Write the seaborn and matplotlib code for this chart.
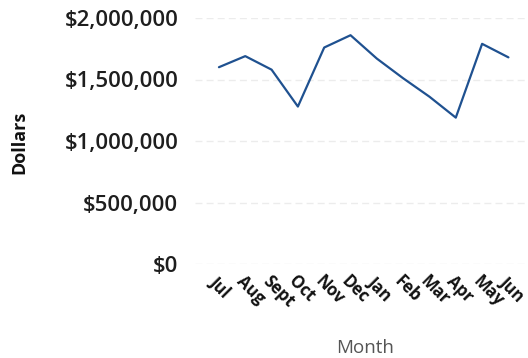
import matplotlib
matplotlib.use("Agg")
import matplotlib.pyplot as plt
import seaborn as sns
import pandas as pd

months = ["Jul", "Aug", "Sept", "Oct", "Nov", "Dec", "Jan", "Feb", "Mar", "Apr", "May", "Jun"]
dollars = [1600000, 1690000, 1580000, 1280000, 1760000, 1860000,
           1670000, 1510000, 1360000, 1190000, 1790000, 1680000]
ytick_values = [0, 500000, 1000000, 1500000, 2000000]
ytick_labels = ["$0", "$500,000", "$1,000,000", "$1,500,000", "$2,000,000"]

sns.set_theme(style="white")
plt.rcParams["font.family"] = ["Open Sans", "DejaVu Sans"]

df = pd.DataFrame({"Month": months, "Dollars": dollars})

W, H = 528, 358
fig = plt.figure(figsize=(W / 100, H / 100), dpi=100)
ax = fig.add_axes([195 / W, (H - 264) / H, (525 - 195) / W, (264 - 18) / H])

sns.lineplot(data=df, x="Month", y="Dollars", sort=False, color="#1f5190",
             linewidth=1.6, ax=ax)

ax.set_ylim(0, 2000000)
ax.set_xlim(-0.91, 11.63)
ax.set_yticks(ytick_values)
ax.set_yticklabels(ytick_labels, fontsize=16, fontweight="semibold", color="#1e1e1e")
ax.set_xticks(range(len(months)))
ax.set_xticklabels(months, rotation=-45, ha="left", rotation_mode="anchor",
                   fontsize=12, fontweight="bold", color="#111111")
ax.tick_params(axis="both", length=0)
ax.tick_params(axis="y", pad=12)
ax.tick_params(axis="x", pad=6)

ax.yaxis.grid(True, color="#ececec", linestyle=(0, (5, 3)), linewidth=1)
ax.xaxis.grid(False)
for s in ax.spines.values():
    s.set_visible(False)

ax.set_xlabel("Month", fontsize=13.5, color="#555555")
ax.xaxis.set_label_coords((365 - 195) / (525 - 195), -(339 - 264) / (264 - 18))
ax.set_ylabel("Dollars", fontsize=13, fontweight="bold", color="#111111")
ax.yaxis.set_label_coords(-(195 - 28) / (525 - 195), (264 - 142) / (264 - 18))

fig.savefig("out.png", dpi=100)
